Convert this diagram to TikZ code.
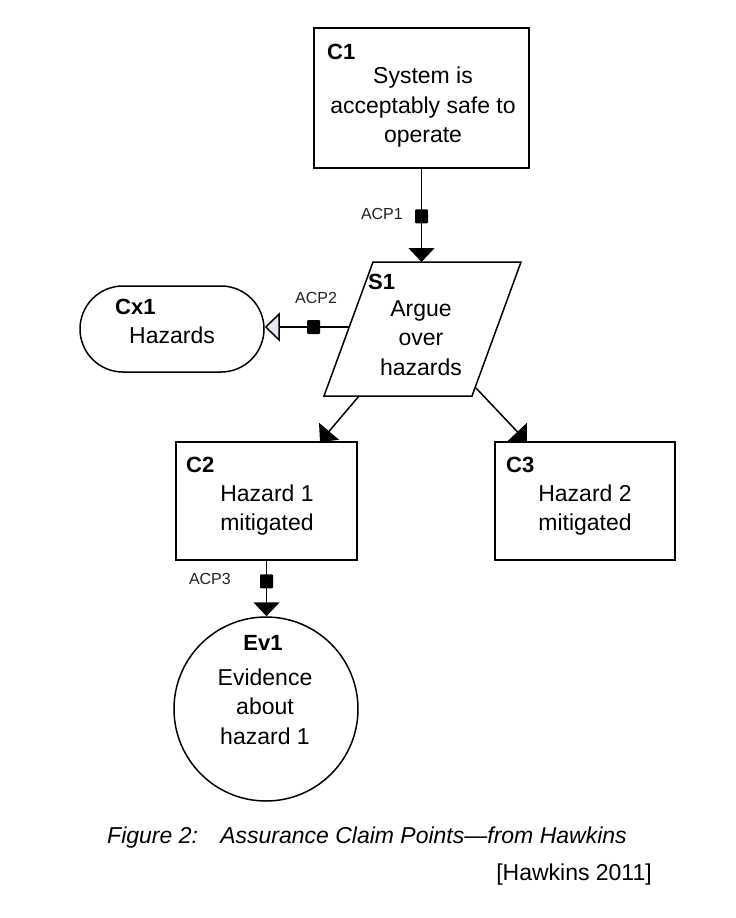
\documentclass[tikz,border=0pt]{standalone}
\usepackage{fontspec}
\setmainfont{Liberation Sans}
\usetikzlibrary{arrows.meta}
\definecolor{acpgray}{HTML}{222222}
\definecolor{cxfill}{HTML}{E6E6F2}
\begin{document}
\begin{tikzpicture}[x=1pt,y=-1pt,
  box/.style={draw=black, line width=1.5pt, fill=white, inner sep=0pt},
  txt/.style={font=\fontsize{23}{29.5}\selectfont, align=center, inner sep=0pt},
  idl/.style={font=\fontsize{22}{25}\selectfont\bfseries, inner sep=0pt, anchor=west},
  acpl/.style={font=\fontsize{16}{19}\selectfont, text=acpgray, inner sep=0pt},
  acpsq/.style={fill=black, draw=none, minimum width=13pt, minimum height=14pt, inner sep=0pt, rounded corners=1pt},
  arr/.style={line width=1.5pt, -{Triangle[width=26pt,length=14pt]}},
  ctx/.style={line width=1.5pt, -{Triangle[width=29pt,length=15pt,fill=cxfill]}},
  capt/.style={font=\fontsize{23}{28}\selectfont, inner sep=0pt}
]
\fill[white] (0,0) rectangle (736,918);
\path[use as bounding box] (0,0) rectangle (736,918);

% shapes
\node[box, minimum width=215pt, minimum height=140pt] (C1) at (421.5,98) {};
\coordinate (s1a) at (373,262);
\coordinate (s1b) at (521,262);
\coordinate (s1c) at (472,396);
\coordinate (s1d) at (324,396);
\draw[line width=1.5pt, fill=white] (s1a) -- (s1b) -- (s1c) -- (s1d) -- cycle;
\coordinate (s1top) at (421.5,262);
\coordinate (s1l) at (349,327);
\coordinate (s1bl) at (359,396);
\coordinate (s1br) at (476,388);
\node[box, rounded corners=43pt, minimum width=184pt, minimum height=86pt] (Cx1) at (172,329) {};
\node[box, minimum width=181pt, minimum height=118pt] (C2) at (266.5,501) {};
\node[box, minimum width=180pt, minimum height=118pt] (C3) at (585,501) {};
\node[box, circle, minimum size=184pt] (Ev1) at (266,709) {};
\coordinate (c2in) at (320,442);
\coordinate (c3in) at (527,442);

% texts
\node[idl] (C1id) at (327,52) {C1};
\node[txt] (C1t) at (423,107.5) {System is\\acceptably safe to\\operate};
\node[idl] (S1id) at (368,282) {S1};
\node[txt] (S1t) at (421,338) {Argue\\over\\hazards};
\node[idl] (Cx1id) at (115,307) {Cx1};
\node[txt] (Cx1t) at (172,335) {Hazards};
\node[idl] (C2id) at (186,465) {C2};
\node[txt] (C2t) at (267,510) {Hazard 1\\mitigated};
\node[idl] (C3id) at (506,465) {C3};
\node[txt] (C3t) at (585,510) {Hazard 2\\mitigated};
\node[idl, anchor=center] (Ev1id) at (263,643) {Ev1};
\node[txt] (Ev1t) at (265,706.5) {Evidence\\about\\hazard 1};

% connectors
\draw[arr] (C1.south) -- node[acpsq, pos=0.51] (q1) {} (s1top);
\node[acpl, anchor=east] (acp1) at (403,214) {ACP1};
\draw[ctx] (s1l) -- node[acpsq, pos=0.42] (q2) {} (s1l -| Cx1.east);
\node[acpl] (acp2) at (316,298) {ACP2};
\draw[arr] (s1bl) -- (c2in);
\draw[arr] (s1br) -- (c3in);
\draw[arr] (C2.south) -- node[acpsq, pos=0.37] (q3) {} (C2.south |- Ev1.north);
\node[acpl, anchor=east] (acp3) at (231,579) {ACP3};

% caption
\node[capt, anchor=west] (cap1) at (107,838) {\itshape Figure 2:\hspace{0.6em} Assurance Claim Points---from Hawkins};
\node[capt, anchor=east] (cap2) at (652,875) {[Hawkins 2011]};
\end{tikzpicture}
\end{document}
